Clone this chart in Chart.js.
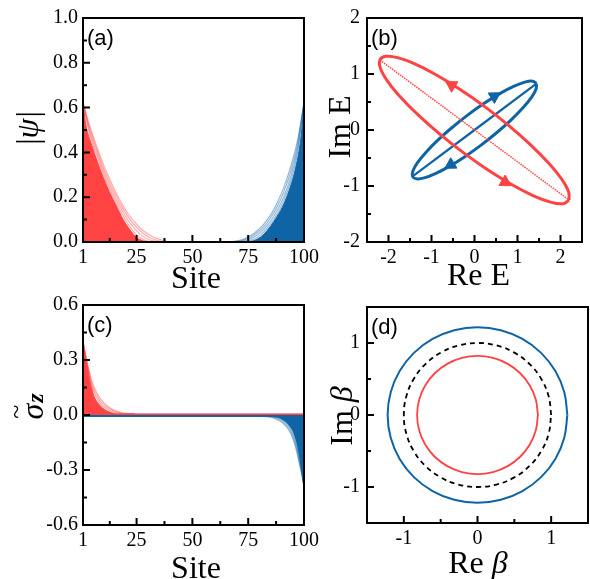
<!DOCTYPE html>
<html lang="en">
<head>
<meta charset="UTF-8">
<title>Skin modes, spectra and GBZ</title>
<script src="https://cdn.jsdelivr.net/npm/chart.js@4.4.1/dist/chart.umd.min.js"></script>
<style>
  html, body { margin: 0; padding: 0; background: #fff; }
  body { position: relative; width: 590px; height: 579px; overflow: hidden; }
  canvas { position: absolute; }
</style>
</head>
<body>
<canvas id="chartA" width="325" height="290" style="left:0;top:0"></canvas>
<canvas id="chartB" width="290" height="290" style="left:300px;top:0"></canvas>
<canvas id="chartC" width="325" height="289" style="left:0;top:290px"></canvas>
<canvas id="chartD" width="290" height="289" style="left:300px;top:290px"></canvas>
<script>
// ---------- ticks ----------
const siteTicks = [1, 25, 50, 75, 100];
const siteTickLabels = ['1', '25', '50', '75', '100'];
const siteMinor = [13, 37.5, 62.5, 87.5];
const psiTicks = [0, 0.2, 0.4, 0.6, 0.8, 1.0];
const psiTickLabels = ['0.0', '0.2', '0.4', '0.6', '0.8', '1.0'];
const psiMinor = [0.1, 0.3, 0.5, 0.7, 0.9];
const sigmaTicks = [-0.6, -0.3, 0, 0.3, 0.6];
const sigmaTickLabels = ['-0.6', '-0.3', '0.0', '0.3', '0.6'];
const sigmaMinor = [-0.45, -0.15, 0.15, 0.45];
const energyTicks = [-2, -1, 0, 1, 2];
const energyTickLabels = ['-2', '-1', '0', '1', '2'];
const energyMinor = [-1.5, -0.5, 0.5, 1.5];
const betaTicks = [-1, 0, 1];
const betaTickLabels = ['-1', '0', '1'];
const betaMinor = [-0.5, 0.5];

// ---------- (a) |psi| ----------
const redDenseSitesA = [1, 2, 3, 5, 7, 10, 13, 16, 19, 22, 25, 28, 31];
const redDenseA = [0.62, 0.54, 0.49, 0.43, 0.37, 0.29, 0.22, 0.16, 0.10, 0.055, 0.02, 0.005, 0];
const redLightSitesA = [1, 4, 7, 10, 13, 16, 19, 22, 25, 28, 31, 34, 37, 40];
const redLightA = [
  [0.62, 0.48, 0.39, 0.305, 0.235, 0.172, 0.116, 0.068, 0.032, 0.011, 0.002, 0, 0, 0],
  [0.62, 0.495, 0.405, 0.32, 0.25, 0.187, 0.132, 0.085, 0.05, 0.024, 0.009, 0.002, 0, 0],
  [0.62, 0.507, 0.418, 0.335, 0.265, 0.202, 0.147, 0.101, 0.066, 0.038, 0.019, 0.008, 0.002, 0],
  [0.62, 0.52, 0.43, 0.35, 0.28, 0.215, 0.16, 0.115, 0.08, 0.05, 0.03, 0.016, 0.007, 0]
];
const blueDenseSitesA = [73, 76, 79, 82, 85, 88, 91, 94, 96, 98, 99, 100];
const blueDenseA = [0, 0.002, 0.012, 0.035, 0.07, 0.115, 0.17, 0.25, 0.32, 0.42, 0.5, 0.62];
const blueLightSitesA = [64, 67, 70, 73, 76, 79, 82, 85, 88, 91, 94, 97, 100];
const blueLightA = [
  [0, 0, 0, 0.001, 0.006, 0.02, 0.045, 0.08, 0.125, 0.185, 0.27, 0.39, 0.62],
  [0, 0, 0.001, 0.005, 0.014, 0.031, 0.057, 0.093, 0.141, 0.203, 0.29, 0.41, 0.62],
  [0, 0, 0.003, 0.009, 0.021, 0.041, 0.069, 0.107, 0.158, 0.225, 0.313, 0.43, 0.62],
  [0, 0.001, 0.005, 0.013, 0.028, 0.05, 0.08, 0.12, 0.175, 0.245, 0.335, 0.45, 0.62]
];

// ---------- (b) spectrum ----------
const redLoopRe = [2.2, 2.186, 2.024, 1.723, 1.305, 0.799, 0.237, -0.341, -0.895, -1.387, -1.786, -2.064, -2.2, -2.186, -2.024, -1.723, -1.305, -0.799, -0.237, 0.341, 0.895, 1.387, 1.786, 2.064, 2.2];
const redLoopIm = [-1.25, -1.1, -0.874, -0.589, -0.264, 0.079, 0.417, 0.727, 0.986, 1.179, 1.292, 1.316, 1.25, 1.1, 0.874, 0.589, 0.264, -0.079, -0.417, -0.727, -0.986, -1.179, -1.292, -1.316, -1.25];
const blueLoopRe = [1.44, 1.353, 1.17, 0.91, 0.587, 0.225, -0.153, -0.521, -0.853, -1.127, -1.325, -1.432, -1.44, -1.353, -1.17, -0.91, -0.587, -0.225, 0.153, 0.521, 0.853, 1.127, 1.325, 1.432, 1.44];
const blueLoopIm = [0.83, 0.872, 0.855, 0.779, 0.65, 0.476, 0.27, 0.045, -0.181, -0.396, -0.583, -0.731, -0.83, -0.872, -0.855, -0.779, -0.65, -0.476, -0.27, -0.045, 0.181, 0.396, 0.583, 0.731, 0.83];
const redOpenRe = [-2.2, 2.2];
const redOpenIm = [1.25, -1.25];
const blueOpenRe = [-1.44, 1.44];
const blueOpenIm = [-0.83, 0.83];
const redArrowRe = [-0.53, 0.71];
const redArrowIm = [0.8, -0.93];
const redArrowAngle = [-59, 121];
const blueArrowRe = [0.46, -0.55];
const blueArrowIm = [0.6, -0.62];
const blueArrowAngle = [59, -121];

// ---------- (c) sigma_z ----------
const redDenseSitesC = [1, 2, 3, 4, 5, 6, 8, 10, 12, 15, 18, 100];
const redDenseC = [0.40, 0.33, 0.26, 0.19, 0.14, 0.10, 0.06, 0.035, 0.02, 0.008, 0.006, 0.006];
const redLightSitesC = [1, 3, 5, 7, 9, 12, 15, 18, 21, 24];
const redLightC = [
  [0.40, 0.265, 0.155, 0.095, 0.058, 0.03, 0.015, 0.008, 0.006, 0.006],
  [0.40, 0.272, 0.17, 0.11, 0.071, 0.039, 0.021, 0.011, 0.007, 0.006],
  [0.40, 0.28, 0.185, 0.125, 0.085, 0.048, 0.026, 0.013, 0.008, 0.006]
];
const blueDenseSitesC = [1, 82, 86, 89, 91, 93, 95, 96, 97, 98, 99, 100];
const blueDenseC = [-0.005, -0.005, -0.006, -0.013, -0.025, -0.045, -0.08, -0.11, -0.15, -0.21, -0.29, -0.38];
const blueLightSitesC = [78, 81, 84, 87, 90, 92, 94, 96, 98, 100];
const blueLightC = [
  [-0.005, -0.005, -0.006, -0.011, -0.024, -0.043, -0.075, -0.135, -0.24, -0.38],
  [-0.005, -0.005, -0.008, -0.015, -0.031, -0.053, -0.087, -0.15, -0.255, -0.38],
  [-0.005, -0.007, -0.011, -0.02, -0.039, -0.062, -0.1, -0.165, -0.27, -0.38]
];

// ---------- (d) GBZ ----------
const blueRingRe = [1.22, 1.178, 1.057, 0.863, 0.61, 0.316, 0, -0.316, -0.61, -0.863, -1.057, -1.178, -1.22, -1.178, -1.057, -0.863, -0.61, -0.316, 0, 0.316, 0.61, 0.863, 1.057, 1.178, 1.22];
const blueRingIm = [0, 0.316, 0.61, 0.863, 1.057, 1.178, 1.22, 1.178, 1.057, 0.863, 0.61, 0.316, 0, -0.316, -0.61, -0.863, -1.057, -1.178, -1.22, -1.178, -1.057, -0.863, -0.61, -0.316, 0];
const unitRingRe = [1, 0.966, 0.866, 0.707, 0.5, 0.259, 0, -0.259, -0.5, -0.707, -0.866, -0.966, -1, -0.966, -0.866, -0.707, -0.5, -0.259, 0, 0.259, 0.5, 0.707, 0.866, 0.966, 1];
const unitRingIm = [0, 0.259, 0.5, 0.707, 0.866, 0.966, 1, 0.966, 0.866, 0.707, 0.5, 0.259, 0, -0.259, -0.5, -0.707, -0.866, -0.966, -1, -0.966, -0.866, -0.707, -0.5, -0.259, 0];
const redRingRe = [0.82, 0.792, 0.71, 0.58, 0.41, 0.212, 0, -0.212, -0.41, -0.58, -0.71, -0.792, -0.82, -0.792, -0.71, -0.58, -0.41, -0.212, 0, 0.212, 0.41, 0.58, 0.71, 0.792, 0.82];
const redRingIm = [0, 0.212, 0.41, 0.58, 0.71, 0.792, 0.82, 0.792, 0.71, 0.58, 0.41, 0.212, 0, -0.212, -0.41, -0.58, -0.71, -0.792, -0.82, -0.792, -0.71, -0.58, -0.41, -0.212, 0];

// ---------- styling ----------
const RED = '#ff4242';
const BLUE = '#0f64a6';
const RED_LIGHT = 'rgba(255,66,66,0.45)';
const BLUE_LIGHT = 'rgba(15,100,166,0.45)';
const SERIF = '"Liberation Serif", "Times New Roman", serif';
const TITLE = '32px ' + SERIF;
const TITLE_IT = 'italic 32px ' + SERIF;

Chart.defaults.font.family = SERIF;
Chart.defaults.font.size = 20;
Chart.defaults.color = '#000';

function xy(xs, ys) {
  return xs.map((x, i) => ({ x: x, y: ys[i] }));
}

function curve(xs, ys, color, width, extra) {
  return Object.assign({
    data: xy(xs, ys), showLine: true, borderColor: color, backgroundColor: color,
    borderWidth: width, pointRadius: 0, fill: false
  }, extra || {});
}

// draws a title made of several font runs, centred on (x, y) baseline
function drawRich(ctx, t) {
  ctx.save();
  ctx.fillStyle = '#000';
  ctx.textBaseline = 'alphabetic';
  ctx.textAlign = 'left';
  let total = 0;
  const widths = t.parts.map(p => {
    ctx.font = p.font;
    const w = p.over ? 0 : ctx.measureText(p.text).width + (p.gap || 0);
    total += w;
    return w;
  });
  ctx.translate(t.x, t.y);
  if (t.rotate) ctx.rotate(-Math.PI / 2);
  let cx = -total / 2, prevStart = 0, prevW = 0;
  t.parts.forEach((p, i) => {
    ctx.font = p.font;
    if (p.over) {
      const w = ctx.measureText(p.text).width;
      ctx.fillText(p.text, prevStart + prevW / 2 - w / 2 + (p.dx || 0), p.dy || 0);
    } else {
      ctx.fillText(p.text, cx + (p.dx || 0), p.dy || 0);
      prevStart = cx;
      prevW = widths[i];
      cx += widths[i];
    }
  });
  ctx.restore();
}

function framePlugin(cfg) {
  return {
    id: 'frame',
    afterDraw(chart) {
      const { ctx, chartArea: a } = chart;
      const sx = chart.scales.x, sy = chart.scales.y;
      ctx.save();
      ctx.strokeStyle = '#000';
      ctx.lineWidth = 2;
      ctx.beginPath();
      cfg.x.ticks.forEach(v => { const p = sx.getPixelForValue(v); ctx.moveTo(p, a.bottom); ctx.lineTo(p, a.bottom - 7); });
      cfg.x.minor.forEach(v => { const p = sx.getPixelForValue(v); ctx.moveTo(p, a.bottom); ctx.lineTo(p, a.bottom - 4); });
      cfg.y.ticks.forEach(v => { const p = sy.getPixelForValue(v); ctx.moveTo(a.left, p); ctx.lineTo(a.left + 7, p); });
      cfg.y.minor.forEach(v => { const p = sy.getPixelForValue(v); ctx.moveTo(a.left, p); ctx.lineTo(a.left + 4, p); });
      ctx.stroke();
      ctx.strokeRect(a.left, a.top, a.right - a.left, a.bottom - a.top);
      ctx.fillStyle = '#000';
      ctx.font = '22px "Liberation Sans", sans-serif';
      ctx.textBaseline = 'alphabetic';
      ctx.fillText(cfg.label, a.left + 4, a.top + 27);
      ctx.restore();
      drawRich(ctx, cfg.xTitle);
      drawRich(ctx, cfg.yTitle);
    }
  };
}

function axis(ax, size) {
  return {
    type: 'linear', min: ax.min, max: ax.max,
    grid: { display: false, drawTicks: false },
    border: { display: false },
    ticks: {
      autoSkip: false, maxRotation: 0, minRotation: 0, color: '#000',
      font: { family: SERIF, size: 20, lineHeight: 1 },
      padding: ax.pad, callback: (v, i) => ax.labels[i]
    },
    afterBuildTicks: s => { s.ticks = ax.ticks.map(v => ({ value: v })); },
    afterFit: s => { if (s.isHorizontal()) s.height = size; else s.width = size; }
  };
}

function makeChart(id, cfg) {
  const A = cfg.area;
  const canvas = document.getElementById(id);
  return new Chart(canvas, {
    type: 'scatter',
    data: { datasets: cfg.datasets },
    options: {
      responsive: false, animation: false, devicePixelRatio: 1,
      layout: { padding: { left: 0, top: A.top, right: canvas.width - A.right, bottom: 0 } },
      elements: { line: { tension: cfg.tension || 0, cubicInterpolationMode: cfg.mono ? 'monotone' : 'default' } },
      plugins: { legend: { display: false }, tooltip: { enabled: false } },
      scales: {
        x: axis(cfg.x, canvas.height - A.bottom),
        y: axis(cfg.y, A.left)
      }
    },
    plugins: [framePlugin(cfg)]
  });
}

// ---------- panel (a) ----------
const dsA = [
  curve(redDenseSitesA, redDenseA, RED, 1, { fill: 'origin' }),
  curve(blueDenseSitesA, blueDenseA, BLUE, 1, { fill: 'origin' })
];
redLightA.forEach(v => dsA.push(curve(redLightSitesA, v, RED_LIGHT, 1.2)));
blueLightA.forEach(v => dsA.push(curve(blueLightSitesA, v, BLUE_LIGHT, 1.2)));
makeChart('chartA', {
  area: { left: 83, top: 18, right: 307, bottom: 242 },
  mono: true, tension: 0.4,
  x: { min: 1, max: 100, ticks: siteTicks, labels: siteTickLabels, minor: siteMinor, pad: 6 },
  y: { min: 0, max: 1, ticks: psiTicks, labels: psiTickLabels, minor: psiMinor, pad: 5 },
  label: '(a)',
  xTitle: { x: 196, y: 288, parts: [{ text: 'Site', font: TITLE }] },
  yTitle: { x: 38, y: 128, rotate: true, parts: [
    { text: '|', font: TITLE }, { text: 'ψ', font: TITLE_IT, gap: 1 }, { text: '|', font: TITLE }] },
  datasets: dsA
});

// ---------- panel (b) ----------
makeChart('chartB', {
  area: { left: 67, top: 18, right: 288, bottom: 242 },
  tension: 0.4,
  x: { min: -2.5, max: 2.5, ticks: energyTicks, labels: energyTickLabels, minor: energyMinor, pad: 6 },
  y: { min: -2, max: 2, ticks: energyTicks, labels: energyTickLabels, minor: energyMinor, pad: 7 },
  label: '(b)',
  xTitle: { x: 178.5, y: 285, parts: [{ text: 'Re E', font: TITLE }] },
  yTitle: { x: 50, y: 127, rotate: true, parts: [{ text: 'Im E', font: TITLE }] },
  datasets: [
    { data: xy(redArrowRe, redArrowIm), pointStyle: 'triangle', pointRadius: 7, rotation: redArrowAngle,
      backgroundColor: RED, borderColor: RED, borderWidth: 1 },
    { data: xy(blueArrowRe, blueArrowIm), pointStyle: 'triangle', pointRadius: 7, rotation: blueArrowAngle,
      backgroundColor: BLUE, borderColor: BLUE, borderWidth: 1 },
    curve(redLoopRe, redLoopIm, RED, 3),
    curve(redOpenRe, redOpenIm, RED, 1.5, { borderDash: [1.5, 1] }),
    curve(blueLoopRe, blueLoopIm, BLUE, 3),
    curve(blueOpenRe, blueOpenIm, BLUE, 2.2)
  ]
});

// ---------- panel (c) ----------
const dsC = [
  curve(redDenseSitesC, redDenseC, RED, 1, { fill: 'origin' }),
  curve(blueDenseSitesC, blueDenseC, BLUE, 2, { fill: 'origin' })
];
redLightC.forEach(v => dsC.push(curve(redLightSitesC, v, RED_LIGHT, 1.2)));
blueLightC.forEach(v => dsC.push(curve(blueLightSitesC, v, BLUE_LIGHT, 1.2)));
makeChart('chartC', {
  area: { left: 83, top: 12, right: 307, bottom: 235 },
  mono: true, tension: 0.4,
  x: { min: 1, max: 100, ticks: siteTicks, labels: siteTickLabels, minor: siteMinor, pad: 6 },
  y: { min: -0.6, max: 0.6, ticks: sigmaTicks, labels: sigmaTickLabels, minor: sigmaMinor, pad: 5 },
  label: '(c)',
  xTitle: { x: 196, y: 288, parts: [{ text: 'Site', font: TITLE }] },
  yTitle: { x: 43, y: 117, rotate: true, parts: [
    { text: 'σ', font: 'italic 32px ' + SERIF },
    { text: '~', font: '26px ' + SERIF, over: true, dy: -19 },
    { text: 'z', font: 'bold italic 24px ' + SERIF, dx: 1 }] },
  datasets: dsC
});

// ---------- panel (d) ----------
makeChart('chartD', {
  area: { left: 67, top: 12, right: 288, bottom: 233 },
  tension: 0.4,
  x: { min: -1.5, max: 1.5, ticks: betaTicks, labels: betaTickLabels, minor: betaMinor, pad: 6 },
  y: { min: -1.5, max: 1.5, ticks: betaTicks, labels: betaTickLabels, minor: betaMinor, pad: 7 },
  label: '(d)',
  xTitle: { x: 178, y: 283, parts: [{ text: 'Re ', font: TITLE }, { text: 'β', font: TITLE_IT }] },
  yTitle: { x: 52, y: 126, rotate: true, parts: [{ text: 'Im ', font: TITLE }, { text: 'β', font: TITLE_IT }] },
  datasets: [
    curve(blueRingRe, blueRingIm, BLUE, 2),
    curve(unitRingRe, unitRingIm, '#000', 1.8, { borderDash: [5, 4] }),
    curve(redRingRe, redRingIm, RED, 1.8)
  ]
});
</script>
</body>
</html>
